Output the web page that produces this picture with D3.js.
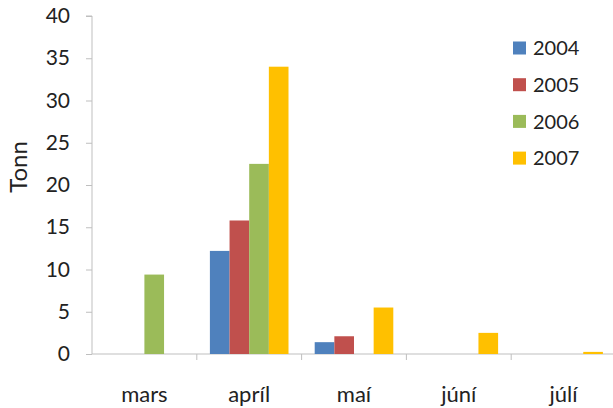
<!DOCTYPE html>
<html><head><meta charset="utf-8">
<script src="https://cdn.jsdelivr.net/npm/d3@7"></script>
<style>body{margin:0;background:#fff}svg{display:block}text{font-family:Lato,"Open Sans",sans-serif;fill:#222}</style>
</head><body><svg width="613" height="408"></svg>
<script>
const categories = ["mars","apríl","maí","júní","júlí"];
const seriesNames = ["2004","2005","2006","2007"];
const s2004 = [0, 12.2, 1.4, 0, 0];
const s2005 = [0, 15.8, 2.1, 0, 0];
const s2006 = [9.4, 22.5, 0, 0, 0];
const s2007 = [0, 34.0, 5.5, 2.5, 0.25];
const colors = ["#4F81BD","#C0504D","#9BBB59","#FFC000"];
const yTicks = [0,5,10,15,20,25,30,35,40];
const yLabel = "Tonn";

(function(){
const series = [s2004,s2005,s2006,s2007];
const svg = d3.select("svg");
const mLeft = 92, mRight = 616, mTop = 16, mBottom = 354;
const x = d3.scaleBand().domain(categories).range([mLeft,mRight]).paddingInner(0.25).paddingOuter(0.125);
const xo = d3.scaleBand().domain(categories).range([mLeft,mRight]);
const xs = d3.scaleBand().domain(seriesNames).range([0,x.bandwidth()]);
const y = d3.scaleLinear().domain([0,40]).range([mBottom,mTop]);

// y axis
const ya = svg.append("g").attr("transform",`translate(${mLeft},0)`)
  .call(d3.axisLeft(y).tickValues(yTicks).tickSize(6).tickPadding(16));
ya.select(".domain").attr("stroke","#bfbfbf").attr("d",`M-6,${mTop}H0V${mBottom}`);
ya.selectAll(".tick line").attr("stroke","#bfbfbf");
ya.selectAll(".tick text").style("font-size","21px").attr("fill","#222").style("font-family","Lato,'Open Sans',sans-serif");

// x axis
const xa = svg.append("g").attr("transform",`translate(0,${mBottom})`);
xa.append("line").attr("x1",mLeft).attr("x2",mRight).attr("stroke","#bfbfbf");
xa.selectAll("line.t").data(categories.slice(1)).join("line").attr("class","t")
  .attr("x1",d=>xo(d)).attr("x2",d=>xo(d)).attr("y1",0).attr("y2",6).attr("stroke","#bfbfbf");
xa.selectAll("text").data(categories).join("text")
  .attr("x",d=>xo(d)+xo.bandwidth()/2).attr("y",48).attr("text-anchor","middle")
  .style("font-size","22px").text(d=>d);

// bars
seriesNames.forEach((name,i)=>{
  svg.append("g").selectAll("rect").data(categories.map((c,j)=>({c,v:series[i][j]})).filter(d=>d.v>0))
    .join("rect").attr("x",d=>x(d.c)+xs(name)).attr("width",xs.bandwidth())
    .attr("y",d=>y(d.v)).attr("height",d=>y(0)-y(d.v)).attr("fill",colors[i]);
});

// y label
svg.append("text").attr("transform","translate(27,167) rotate(-90)").attr("text-anchor","middle")
  .style("font-size","24px").text(yLabel);

// legend
const lg = svg.append("g");
seriesNames.forEach((name,i)=>{
  const cy = 48 + i*36.7;
  lg.append("rect").attr("x",513).attr("y",cy-6.5).attr("width",13).attr("height",13).attr("fill",colors[i]);
  lg.append("text").attr("x",533).attr("y",cy).attr("dy","0.36em").style("font-size","20px").text(name);
});
})();
</script></body></html>
